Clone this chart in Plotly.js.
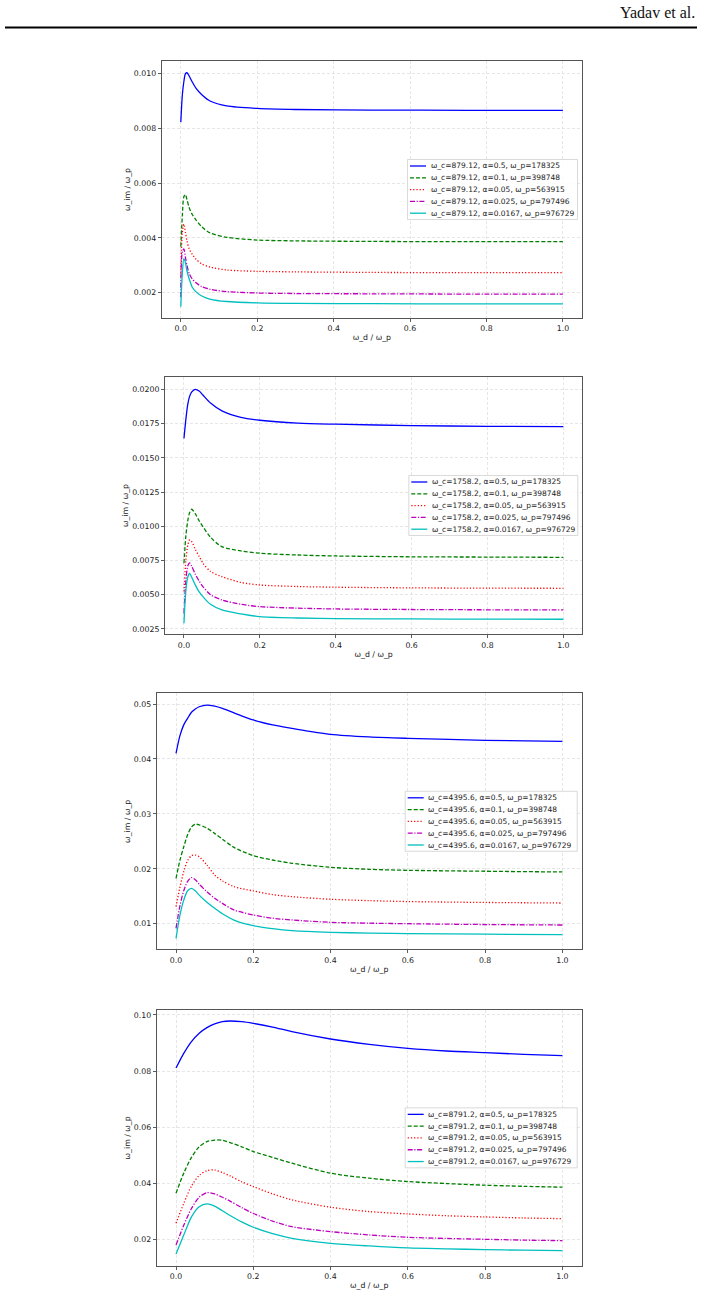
<!DOCTYPE html>
<html>
<head>
<meta charset="utf-8">
<script src="https://cdn.plot.ly/plotly-3.0.1.min.js"></script>
<style>html,body{margin:0;padding:0;background:#fff;}#chart{width:705px;height:1297px;}</style>
</head>
<body>
<div id="chart"></div>
<script>
const omegaC = ['879.12', '1758.2', '4395.6', '8791.2'];
const alphas = ['0.5', '0.1', '0.05', '0.025', '0.0167'];
const omegaP = ['178325', '398748', '563915', '797496', '976729'];
const xTitle = 'ω_d / ω_p';
const yTitle = 'ω_im / ω_p';

const x1 = [0, 0.004, 0.008, 0.012, 0.016, 0.022, 0.03, 0.04, 0.055, 0.078, 0.12, 0.2, 0.3, 0.5, 0.75, 1.0];
const p1a = [0.00822, 0.0092, 0.0097, 0.00998, 0.01002, 0.0099, 0.00968, 0.00945, 0.00922, 0.00898, 0.00881, 0.00872, 0.00868, 0.00866, 0.00865, 0.00865];
const p1b = [0.00368, 0.0048, 0.0055, 0.00558, 0.0054, 0.0051, 0.00485, 0.00465, 0.0044, 0.00417, 0.00402, 0.00392, 0.00389, 0.00387, 0.00386, 0.00386];
const p1c = [0.00258, 0.0042, 0.0045, 0.0042, 0.0039, 0.0036, 0.0034, 0.00322, 0.00305, 0.00293, 0.00283, 0.00278, 0.00276, 0.00274, 0.00273, 0.00273];
const p1d = [0.00184, 0.0035, 0.0036, 0.0033, 0.003, 0.0027, 0.0025, 0.00236, 0.00222, 0.00212, 0.00204, 0.00199, 0.00197, 0.00196, 0.00195, 0.00195];
const p1e = [0.00149, 0.0027, 0.00324, 0.0031, 0.0028, 0.0025, 0.0022, 0.00203, 0.00188, 0.00176, 0.00168, 0.00163, 0.00161, 0.0016, 0.00159, 0.00159];

const x2 = [0, 0.005, 0.01, 0.015, 0.02, 0.03, 0.04, 0.05, 0.07, 0.1, 0.15, 0.2, 0.3, 0.4, 0.6, 0.8, 1.0];
const p2a = [0.01642, 0.0178, 0.0189, 0.0195, 0.0198, 0.02, 0.01988, 0.01958, 0.019, 0.01843, 0.01795, 0.01774, 0.01753, 0.01745, 0.01735, 0.0173, 0.01727];
const p2b = [0.0073, 0.0093, 0.0104, 0.011, 0.01124, 0.0109, 0.0104, 0.00997, 0.0092, 0.00851, 0.0082, 0.00803, 0.0079, 0.00783, 0.00777, 0.00775, 0.00773];
const p2c = [0.00523, 0.0075, 0.0086, 0.009, 0.0089, 0.0083, 0.0078, 0.0073, 0.0067, 0.00632, 0.0059, 0.00571, 0.0056, 0.00555, 0.0055, 0.00548, 0.00547];
const p2d = [0.00365, 0.006, 0.0071, 0.00732, 0.0071, 0.0065, 0.006, 0.00559, 0.005, 0.00462, 0.0043, 0.00413, 0.00402, 0.00396, 0.00392, 0.0039, 0.00389];
const p2e = [0.00292, 0.0053, 0.0063, 0.00655, 0.0063, 0.0057, 0.0052, 0.00486, 0.0043, 0.00389, 0.0036, 0.0034, 0.0033, 0.00326, 0.00323, 0.00322, 0.00321];

const x3 = [0, 0.01, 0.02, 0.03, 0.04, 0.05, 0.06, 0.08, 0.1, 0.12, 0.15, 0.2, 0.25, 0.3, 0.4, 0.5, 0.6, 0.8, 1.0];
const p3a = [0.04102, 0.0442, 0.0462, 0.0474, 0.0485, 0.0491, 0.0495, 0.0498, 0.0496, 0.0492, 0.0484, 0.04709, 0.0462, 0.04557, 0.04448, 0.044, 0.04375, 0.04339, 0.0432];
const p3b = [0.01825, 0.0215, 0.024, 0.0262, 0.0276, 0.0281, 0.028, 0.0274, 0.02645, 0.0254, 0.0239, 0.02238, 0.0216, 0.021, 0.02027, 0.0199, 0.01972, 0.01955, 0.01942];
const p3c = [0.0131, 0.0166, 0.0195, 0.0215, 0.0224, 0.0225, 0.0222, 0.0207, 0.01887, 0.0178, 0.01675, 0.01596, 0.0153, 0.01492, 0.01445, 0.0142, 0.01403, 0.01387, 0.01377];
const p3d = [0.00916, 0.0132, 0.016, 0.0177, 0.0184, 0.018, 0.0172, 0.0158, 0.01463, 0.0137, 0.0125, 0.01159, 0.011, 0.01068, 0.01025, 0.0101, 0.01, 0.00985, 0.00976];
const p3e = [0.00734, 0.0115, 0.0143, 0.016, 0.01645, 0.016, 0.0152, 0.0139, 0.0128, 0.0118, 0.01067, 0.00964, 0.0091, 0.00873, 0.00843, 0.0083, 0.0082, 0.0081, 0.008];

const x4 = [0, 0.02, 0.04, 0.06, 0.08, 0.1, 0.12, 0.14, 0.17, 0.2, 0.25, 0.3, 0.4, 0.5, 0.6, 0.7, 0.8, 0.9, 1.0];
const p4a = [0.08107, 0.0863, 0.0905, 0.0935, 0.0955, 0.0968, 0.0976, 0.09786, 0.0976, 0.097, 0.0957, 0.09405, 0.09144, 0.08954, 0.08811, 0.08716, 0.08656, 0.08597, 0.0855];
const p4b = [0.03643, 0.0436, 0.0492, 0.053, 0.0548, 0.0554, 0.0553, 0.0545, 0.053, 0.0513, 0.0492, 0.04713, 0.04357, 0.04178, 0.0406, 0.03988, 0.03929, 0.0389, 0.03857];
const p4c = [0.02571, 0.0328, 0.039, 0.0428, 0.0445, 0.0447, 0.0438, 0.0426, 0.0405, 0.0388, 0.0362, 0.03405, 0.03143, 0.02988, 0.02904, 0.0284, 0.02797, 0.0276, 0.02737];
const p4d = [0.01798, 0.025, 0.031, 0.035, 0.0366, 0.0362, 0.035, 0.0336, 0.0313, 0.0292, 0.0265, 0.02452, 0.02273, 0.02155, 0.02071, 0.0203, 0.02, 0.0197, 0.01952];
const p4e = [0.01477, 0.0215, 0.028, 0.0316, 0.0326, 0.0318, 0.0302, 0.0285, 0.0262, 0.0243, 0.022, 0.02036, 0.01857, 0.01762, 0.01691, 0.0166, 0.01631, 0.0161, 0.01596];

const W = 705, H = 1297;
const panels = [
  {x: x1, ys: [p1a, p1b, p1c, p1d, p1e], box: [161.7, 582, 61, 318],   yr: [0.001078, 0.010448], dtick: 0.002,  fmt: '.3f', legW: 170},
  {x: x2, ys: [p2a, p2b, p2c, p2d, p2e], box: [165, 582.3, 376.7, 634.3], yr: [0.00211, 0.02092],  dtick: 0.0025, fmt: '.4f', legW: 169},
  {x: x3, ys: [p3a, p3b, p3c, p3d, p3e], box: [156.7, 581.7, 693.3, 949.3], yr: [0.00534, 0.05195], dtick: 0.01, fmt: '.2f', legW: 172},
  {x: x4, ys: [p4a, p4b, p4c, p4d, p4e], box: [156.7, 581.7, 1010, 1265.7], yr: [0.01058, 0.10178], dtick: 0.02, fmt: '.2f', legW: 172}
];
const styles = [
  {color: '#0000ff', dash: 'solid'},
  {color: '#008000', dash: '4px,2px'},
  {color: '#ff0000', dash: '1.2px,2px'},
  {color: '#bf00bf', dash: '5px,1.6px,1.2px,1.6px'},
  {color: '#00bfbf', dash: 'solid'}
];
const FONT = 'DejaVu Sans, sans-serif';
const LEGFONT = 7.5;
const traces = [];
const layout = {
  width: W, height: H,
  margin: {l: 0, r: 0, t: 0, b: 0},
  paper_bgcolor: '#ffffff', plot_bgcolor: '#ffffff',
  showlegend: false,
  font: {family: FONT, size: 7.8, color: '#222'},
  shapes: [], annotations: []
};

panels.forEach((p, i) => {
  const n = i === 0 ? '' : String(i + 1);
  const [L, R, T, B] = p.box;
  p.ys.forEach((y, j) => {
    traces.push({
      type: 'scatter', mode: 'lines', x: p.x, y: y,
      xaxis: 'x' + n, yaxis: 'y' + n,
      name: 'ω_c=' + omegaC[i] + ', α=' + alphas[j] + ', ω_p=' + omegaP[j],
      line: {color: styles[j].color, dash: styles[j].dash, width: 1.3, shape: 'spline', smoothing: 0.8},
      hoverinfo: 'skip'
    });
  });
  const common = {
    showline: true, mirror: true, linecolor: '#555', linewidth: 1,
    ticks: 'outside', ticklen: 3, tickwidth: 0.8, tickcolor: '#333',
    showgrid: true, gridcolor: '#dcdcdc', griddash: '3px,2px', gridwidth: 0.7,
    zeroline: false, tickfont: {family: FONT, size: 7.8, color: '#222'}
  };
  layout['xaxis' + n] = Object.assign({}, common, {
    domain: [L / W, R / W], anchor: 'y' + n, range: [-0.05, 1.05],
    tick0: 0, dtick: 0.2, tickformat: '.1f',
    title: {text: xTitle, font: {family: FONT, size: 7.8, color: '#222'}, standoff: 2}
  });
  layout['yaxis' + n] = Object.assign({}, common, {
    domain: [1 - B / H, 1 - T / H], anchor: 'x' + n, range: p.yr,
    tick0: 0, dtick: p.dtick, tickformat: p.fmt,
    title: {text: yTitle, font: {family: FONT, size: 7.8, color: '#222'}, standoff: 2}
  });

  // legend drawn at "center right": box, line samples, labels
  const legH = 60, pad = 4.5;
  const bx1 = R - pad, bx0 = bx1 - p.legW;
  const by0 = (T + B) / 2 - legH / 2;
  layout.shapes.push({
    type: 'rect', xref: 'paper', yref: 'paper',
    x0: bx0 / W, x1: bx1 / W, y0: 1 - by0 / H, y1: 1 - (by0 + legH) / H,
    line: {color: '#d0d0d0', width: 0.8}, fillcolor: 'rgba(255,255,255,0.85)', layer: 'above'
  });
  for (let j = 0; j < 5; j++) {
    const ry = by0 + 6.5 + 11.8 * j;
    layout.shapes.push({
      type: 'line', xref: 'paper', yref: 'paper',
      x0: (bx0 + 2.5) / W, x1: (bx0 + 18.5) / W, y0: 1 - ry / H, y1: 1 - ry / H,
      line: {color: styles[j].color, dash: styles[j].dash, width: 1.3}, layer: 'above'
    });
    layout.annotations.push({
      xref: 'paper', yref: 'paper', x: (bx0 + 21) / W, y: 1 - ry / H,
      xanchor: 'left', yanchor: 'middle', showarrow: false,
      text: 'ω_c=' + omegaC[i] + ', α=' + alphas[j] + ', ω_p=' + omegaP[j],
      font: {family: FONT, size: LEGFONT, color: '#222'}
    });
  }
});

// running header of the page
layout.annotations.push({
  xref: 'paper', yref: 'paper', x: 697 / W, y: 1 - 12.5 / H, xanchor: 'right', yanchor: 'middle',
  showarrow: false, text: 'Yadav et al.', font: {family: 'Liberation Serif, serif', size: 16, color: '#111'}
});
layout.shapes.push({
  type: 'line', xref: 'paper', yref: 'paper', x0: 5 / W, x1: 697 / W, y0: 1 - 27.5 / H, y1: 1 - 27.5 / H,
  line: {color: '#000', width: 2}
});

Plotly.newPlot('chart', traces, layout, {staticPlot: true, displayModeBar: false});
</script>
</body>
</html>
